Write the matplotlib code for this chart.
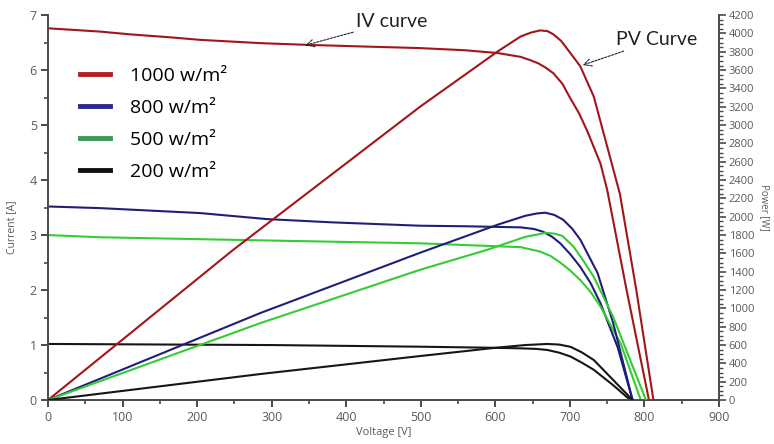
from matplotlib import pyplot as plt
from matplotlib.lines import Line2D
from matplotlib.ticker import MultipleLocator

# IV curves (voltage [V], current [A])
v_iv_1000 = [0, 70, 110, 160, 204, 285, 345, 420, 499, 560, 603, 634, 647, 658, 668, 678, 690, 700, 712, 723, 741, 750, 776, 806]
i_iv_1000 = [6.76, 6.70, 6.65, 6.60, 6.55, 6.49, 6.46, 6.43, 6.40, 6.36, 6.31, 6.24, 6.18, 6.12, 6.04, 5.94, 5.75, 5.50, 5.22, 4.90, 4.30, 3.82, 2.00, 0]

v_iv_800 = [0, 70, 204, 294, 383, 499, 560, 634, 652, 664, 676, 687, 700, 714, 728, 741, 764, 784]
i_iv_800 = [3.52, 3.49, 3.40, 3.29, 3.23, 3.17, 3.16, 3.14, 3.11, 3.06, 2.97, 2.85, 2.66, 2.42, 2.12, 1.76, 0.96, 0]

v_iv_500 = [0, 70, 300, 499, 634, 660, 674, 687, 700, 714, 728, 741, 768, 795]
i_iv_500 = [3.00, 2.96, 2.90, 2.85, 2.78, 2.70, 2.62, 2.50, 2.36, 2.18, 1.96, 1.70, 1.03, 0]

v_iv_200 = [0, 300, 499, 600, 634, 655, 670, 686, 701, 716, 732, 758, 781]
i_iv_200 = [1.02, 1.00, 0.97, 0.95, 0.94, 0.93, 0.91, 0.86, 0.79, 0.68, 0.55, 0.27, 0]

# PV curves (voltage [V], power [W])
v_pv_1000 = [0, 248, 499, 603, 634, 648, 660, 670, 678, 688, 697, 714, 732, 750, 767, 789, 812]
p_pv_1000 = [0, 1636, 3200, 3803, 3967, 4010, 4033, 4025, 3989, 3920, 3825, 3640, 3311, 2765, 2250, 1202, 0]

v_pv_800 = [0, 285, 499, 603, 640, 656, 667, 679, 691, 703, 714, 737, 758, 784]
p_pv_800 = [0, 950, 1607, 1913, 2010, 2036, 2044, 2020, 1967, 1870, 1749, 1388, 841, 0]

v_pv_500 = [0, 285, 499, 589, 640, 668, 680, 690, 705, 718, 732, 758, 802]
p_pv_500 = [0, 840, 1421, 1639, 1780, 1825, 1815, 1790, 1672, 1520, 1344, 907, 0]

v_pv_200 = [0, 285, 499, 600, 640, 670, 686, 701, 716, 732, 758, 784]
p_pv_200 = [0, 284, 480, 570, 600, 612, 605, 580, 520, 437, 219, 0]

labels = ['1000 w/m²', '800 w/m²', '500 w/m²', '200 w/m²']
curve_colors = ['#a3151a', '#1f1f7a', '#33cc33', '#1a1418']
legend_colors = ['#b22222', '#2a2a8c', '#3a9a50', '#111111']

plt.rcParams['font.family'] = ['Open Sans', 'DejaVu Sans']

fig = plt.figure(figsize=(7.74, 4.44), dpi=100)
ax = fig.add_axes([0.062, 0.099, 0.867, 0.867])
ax2 = ax.twinx()

iv = [(v_iv_1000, i_iv_1000), (v_iv_800, i_iv_800), (v_iv_500, i_iv_500), (v_iv_200, i_iv_200)]
pv = [(v_pv_1000, p_pv_1000), (v_pv_800, p_pv_800), (v_pv_500, p_pv_500), (v_pv_200, p_pv_200)]

for (v, i), c in zip(iv, curve_colors):
    ax.plot(v, i, color=c, lw=1.5, solid_joinstyle='round')
for (v, p), c in zip(pv, curve_colors):
    ax2.plot(v, p, color=c, lw=1.5, solid_joinstyle='round')

ax.set_xlim(0, 900)
ax.set_ylim(0, 7)
ax2.set_ylim(0, 4200)

spine_col = '#4a4a4a'
tick_col = '#5a5a5a'
for a in (ax, ax2):
    for s in a.spines.values():
        s.set_color(spine_col)
        s.set_linewidth(1.4)
    a.spines['top'].set_visible(False)
ax.spines['right'].set_visible(False)
ax2.spines['left'].set_visible(False)
ax2.spines['bottom'].set_visible(False)

ax.xaxis.set_major_locator(MultipleLocator(100))
ax.xaxis.set_minor_locator(MultipleLocator(50))
ax.yaxis.set_major_locator(MultipleLocator(1))
ax.yaxis.set_minor_locator(MultipleLocator(0.5))
ax2.yaxis.set_major_locator(MultipleLocator(200))
ax2.yaxis.set_minor_locator(MultipleLocator(50))

ax.tick_params(which='major', length=5, width=1.4, color=spine_col, labelcolor=tick_col, labelsize=9, pad=3)
ax.tick_params(which='minor', length=3, width=1.2, color=spine_col)
ax2.tick_params(which='major', length=5, width=1.2, color=spine_col, labelcolor=tick_col, labelsize=8, pad=2)
ax2.tick_params(which='minor', length=3, width=1.0, color=spine_col)

ax.set_xlabel('Voltage [V]', fontsize=8, color=tick_col, labelpad=2)
ax.set_ylabel('Current [A]', fontsize=7.5, color=tick_col)
ax.yaxis.set_label_coords(-0.046, 0.45)
ax2.set_ylabel('Power [W]', fontsize=7, color=tick_col, rotation=270, va='center')
ax2.yaxis.set_label_coords(1.068, 0.5)

handles = [Line2D([], [], color=c, lw=3.5) for c in legend_colors]
ax.legend(handles, labels, loc='upper left', bbox_to_anchor=(0.047, 0.866), frameon=False,
          fontsize=14, handlelength=1.55, handletextpad=1.05, labelspacing=0.72,
          borderpad=0, borderaxespad=0)

note_font = ['Lato', 'DejaVu Sans']
arrow = dict(arrowstyle='->', color='#222222', lw=0.8, linestyle=(0, (2, 1.2)), shrinkA=0, shrinkB=0)
ax.annotate('IV curve', xy=(345, 6.45), xytext=(413, 6.88), fontsize=14, family=note_font,
            color='#222222', va='center', ha='left', arrowprops=arrow)
ax.annotate('PV Curve', xy=(717, 6.09), xytext=(762, 6.55), fontsize=14, family=note_font,
            color='#222222', va='center', ha='left', arrowprops=arrow)

fig.savefig('out.png', dpi=100)
